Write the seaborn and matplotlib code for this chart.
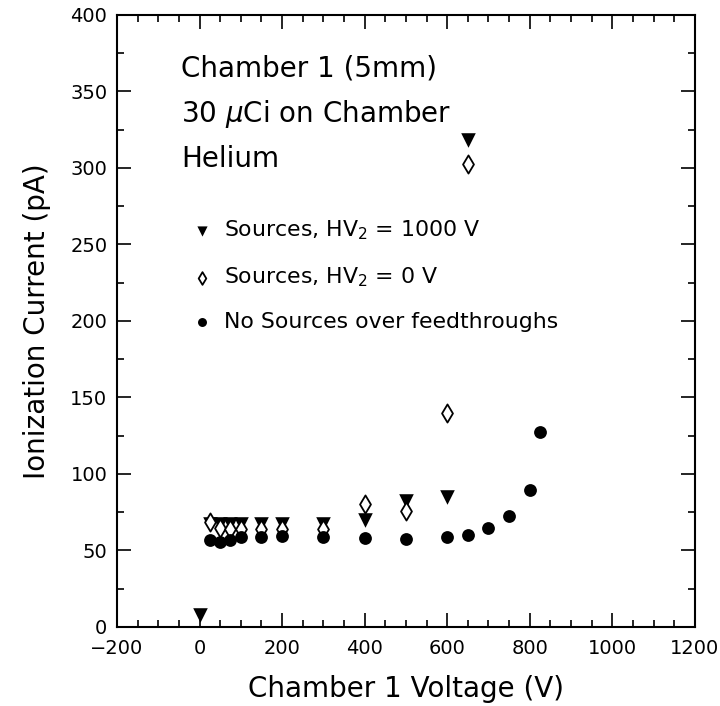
import pandas as pd
import seaborn as sns
import matplotlib.pyplot as plt
from matplotlib.ticker import MultipleLocator

sns.set_style('ticks')
plt.rcParams['font.family'] = ['DejaVu Sans']
plt.rcParams['mathtext.fontset'] = 'dejavusans'
for k in ['text.color', 'axes.labelcolor', 'xtick.color', 'ytick.color', 'axes.edgecolor']:
    plt.rcParams[k] = 'black'

# 数据：腔室电压 (V) 与电离电流 (pA)
v_hv1000 = [0, 25, 50, 75, 100, 150, 200, 300, 400, 500, 600, 650]
i_hv1000 = [8, 67, 67, 67, 67, 67, 67, 67, 70, 82, 85, 318]

v_hv0 = [25, 50, 75, 100, 150, 200, 300, 400, 500, 600, 650]
i_hv0 = [68.5, 64.5, 64, 64, 64, 64, 64, 80.5, 76, 140, 302.5]

v_nosrc = [25, 50, 75, 100, 150, 200, 300, 400, 500, 600, 650, 700, 750, 800, 825]
i_nosrc = [56.5, 55.8, 57, 59, 59, 59.5, 58.5, 58.2, 57.5, 58.8, 60, 64.7, 72.5, 89.5, 127.5]

labels = [r'Sources, HV$_2$ = 1000 V',
          r'Sources, HV$_2$ = 0 V',
          'No Sources over feedthroughs']

fig = plt.figure(figsize=(7.2, 7.06), dpi=100)
ax = fig.add_axes([0.1625, 0.112, 0.8025, 0.867])

sns.scatterplot(x=v_hv1000, y=i_hv1000, marker='v', s=110, color='black',
                edgecolor='black', linewidth=0, label=labels[0], ax=ax)
sns.scatterplot(x=v_hv0, y=i_hv0, marker='d', s=85, facecolor='white',
                edgecolor='black', linewidth=1.3, label=labels[1], ax=ax)
sns.scatterplot(x=v_nosrc, y=i_nosrc, marker='o', s=85, color='black',
                edgecolor='black', linewidth=0, label=labels[2], ax=ax)

ax.set_xlim(-200, 1200)
ax.set_ylim(0, 400)
ax.xaxis.set_major_locator(MultipleLocator(200))
ax.xaxis.set_minor_locator(MultipleLocator(50))
ax.yaxis.set_major_locator(MultipleLocator(50))
ax.yaxis.set_minor_locator(MultipleLocator(25))
ax.tick_params(which='both', direction='in', top=True, right=True, width=1.2)
ax.tick_params(which='major', length=10, labelsize=14)
ax.tick_params(axis='x', which='major', pad=9)
ax.tick_params(axis='y', which='major', pad=7)
ax.tick_params(which='minor', length=5)
for sp in ax.spines.values():
    sp.set_linewidth(1.5)

ax.set_xlabel('Chamber 1 Voltage (V)', fontsize=20, labelpad=12)
ax.set_ylabel('Ionization Current (pA)', fontsize=20, labelpad=14)

ax.text(-45, 359.5, 'Chamber 1 (5mm)', fontsize=20, va='baseline')
ax.text(-45, 330, r'30 $\mu$Ci on Chamber', fontsize=20, va='baseline')
ax.text(-45, 300.8, 'Helium', fontsize=20, va='baseline')

ax.legend(loc='upper left', bbox_to_anchor=(0.09, 0.699), frameon=False,
          fontsize=15.8, markerscale=0.7, handletextpad=0.4, labelspacing=1.05,
          handlelength=1.2)

plt.savefig('out.png', dpi=100)
